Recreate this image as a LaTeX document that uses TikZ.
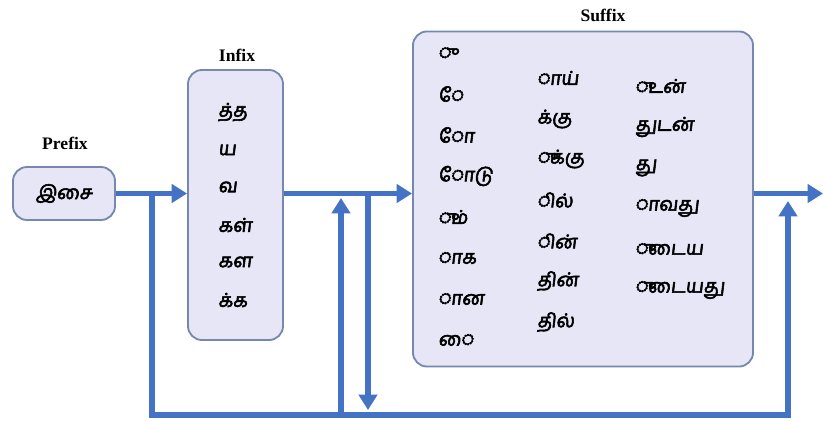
\documentclass[tikz,border=0pt]{standalone}
\usepackage{fontspec}
\setmainfont{Liberation Serif}
\newfontfamily\tamilfont[Script=Tamil, FakeBold=3, FakeSlant=0.12]{Hind Madurai}
\usetikzlibrary{arrows.meta}

\definecolor{flowblue}{RGB}{68,114,196}
\definecolor{boxfill}{RGB}{230,230,246}
\definecolor{boxline}{RGB}{118,136,176}

\tikzset{
  box/.style={draw=boxline, fill=boxfill, line width=1.3pt, rounded corners=10pt, inner sep=0pt},
  title/.style={font=\fontsize{12.5}{14}\selectfont\bfseries},
  ta/.style={font=\tamilfont\fontsize{13.5}{15}\selectfont, inner sep=0pt, anchor=west},
  flow/.style={draw=flowblue, line width=3.6pt, -{Triangle[length=11pt,width=13pt]}}
}

\begin{document}
\begin{tikzpicture}[x=0.025cm, y=-0.025cm]
  \useasboundingbox (0,0) rectangle (823,421);

  \node[box, minimum width=2.55cm, minimum height=1.325cm] (prefix) at (64,193.5) {};
  \node[box, minimum width=2.375cm, minimum height=6.75cm] (infix) at (235.5,205) {};
  \node[box, minimum width=8.5cm, minimum height=8.375cm] (suffix) at (583,199) {};

  \node[title] (prefixlbl) at (65,143) {Prefix};
  \node[title] (infixlbl) at (237,55) {Infix};
  \node[title] (suffixlbl) at (603,15) {Suffix};

  \node[font=\tamilfont\fontsize{13.5}{15}\selectfont] (pre) at (64,193.5) {இசை};

  \node[ta] (in1) at (218,112) {த்த};
  \node[ta] (in2) at (218,150) {ய};
  \node[ta] (in3) at (218,187) {வ};
  \node[ta] (in4) at (218,225) {கள்};
  \node[ta] (in5) at (218,262) {கள};
  \node[ta] (in6) at (218,300) {க்க};

  \node[ta] (sa1) at (438,53) {◌ு};
  \node[ta] (sa2) at (438,94) {◌ே};
  \node[ta] (sa3) at (438,135) {◌ோ};
  \node[ta] (sa4) at (438,176) {◌ோடு};
  \node[ta] (sa5) at (438,217) {◌ும்};
  \node[ta] (sa6) at (438,258) {◌ாக};
  \node[ta] (sa7) at (438,299) {◌ான};
  \node[ta] (sa8) at (438,340) {◌ை};

  \node[ta] (sb1) at (537,78) {◌ாய்};
  \node[ta] (sb2) at (537,119) {க்கு};
  \node[ta] (sb3) at (537,159) {◌ுக்கு};
  \node[ta] (sb4) at (537,200) {◌ில்};
  \node[ta] (sb5) at (537,241) {◌ின்};
  \node[ta] (sb6) at (537,281) {தின்};
  \node[ta] (sb7) at (537,322) {தில்};

  \node[ta] (sc1) at (635,86) {◌ுடன்};
  \node[ta] (sc2) at (635,127) {துடன்};
  \node[ta] (sc3) at (635,168) {து};
  \node[ta] (sc4) at (635,208) {◌ாவது};
  \node[ta] (sc5) at (635,249) {◌ுடைய};
  \node[ta] (sc6) at (635,290) {◌ுடையது};

  \coordinate (split) at (152,193.5);
  \coordinate (loopend) at (788,415);
  \coordinate (looptip) at (788,201);
  \coordinate (upfoot) at (341,413);
  \coordinate (uptip) at (341,198);
  \coordinate (downtop) at (368,193.5);
  \coordinate (downtip) at (368,410);
  \coordinate (out) at (823,193.5);

  \draw[flow] (prefix.east) -- (infix.west |- prefix.east);
  \draw[flow] (infix.east |- prefix.east) -- (suffix.west |- prefix.east);
  \draw[flow] (suffix.east |- prefix.east) -- (out);
  \draw[flow] (split) |- (loopend) -- (looptip);
  \draw[flow] (upfoot) -- (uptip);
  \draw[flow] (downtop) -- (downtip);
\end{tikzpicture}
\end{document}
